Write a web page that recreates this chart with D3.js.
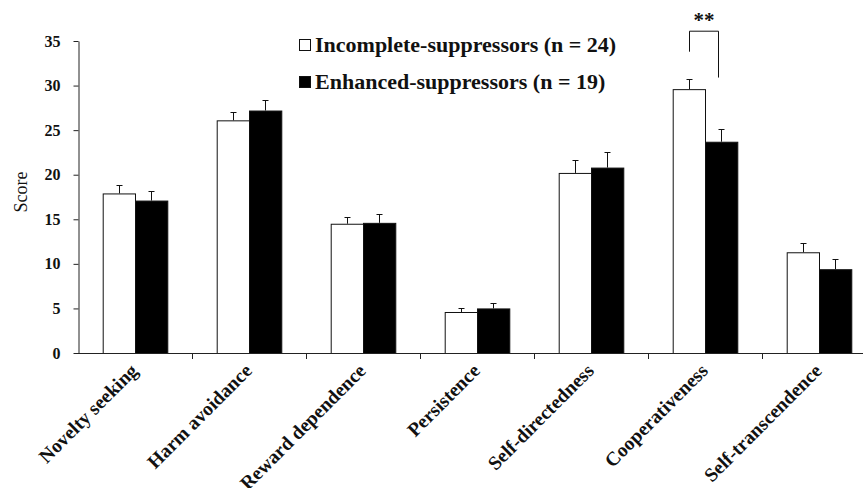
<!DOCTYPE html>
<html><head><meta charset="utf-8">
<script src="https://cdn.jsdelivr.net/npm/d3@7"></script>
<style>
html,body{margin:0;padding:0;background:#fff;}
svg{display:block;}
text{font-family:"Liberation Serif","Times New Roman",serif;}
</style></head>
<body>
<svg id="chart" width="863" height="488"></svg>
<script>
const categories = ["Novelty seeking","Harm avoidance","Reward dependence","Persistence","Self-directedness","Cooperativeness","Self-transcendence"];
const incomplete = [17.9, 26.1, 14.5, 4.6, 20.2, 29.6, 11.3];
const incompleteErr = [1.0, 0.9, 0.8, 0.5, 1.5, 1.1, 1.0];
const enhanced = [17.1, 27.2, 14.6, 5.0, 20.8, 23.7, 9.4];
const enhancedErr = [1.1, 1.2, 1.0, 0.6, 1.8, 1.4, 1.1];
const seriesNames = ["Incomplete-suppressors (n = 24)", "Enhanced-suppressors (n = 19)"];
const seriesKeys = ["inc","enh"];
const yTicks = [0,5,10,15,20,25,30,35];
const sigLabel = "**";
const sigCategory = "Cooperativeness";

const svg = d3.select("#chart");
const x = d3.scaleBand().domain(categories).range([78, 876]).paddingInner(0).paddingOuter(0);
const xs = d3.scaleBand().domain(seriesKeys).range([0, x.bandwidth()]).paddingInner(0).paddingOuter(0.765);
const y = d3.scaleLinear().domain([0,35]).range([353,41]);

const data = categories.map((c,i)=>({cat:c, vals:[
  {key:"inc", v:incomplete[i], e:incompleteErr[i]},
  {key:"enh", v:enhanced[i], e:enhancedErr[i]}
]}));

// bars
const g = svg.append("g");
const groups = g.selectAll("g.cat").data(data).join("g")
  .attr("transform", d=>`translate(${x(d.cat)},0)`);
groups.selectAll("rect").data(d=>d.vals).join("rect")
  .attr("x", d=>xs(d.key)+0.5)
  .attr("y", d=>y(d.v)+0.5)
  .attr("width", xs.bandwidth())
  .attr("height", d=>y(0)-y(d.v))
  .attr("fill", d=>d.key==="inc"?"#fff":"#000")
  .attr("stroke", "#111").attr("stroke-width",1);
// error bars
groups.selectAll("path.err").data(d=>d.vals).join("path")
  .attr("class","err")
  .attr("d", d=>{const cx = Math.round(xs(d.key)+xs.bandwidth()/2)+0.5; const t=Math.round(y(d.v+d.e))+0.5; const b=y(d.v);
    return `M${cx},${b}V${t}M${cx-3},${t}H${cx+3}`;})
  .attr("stroke","#111").attr("stroke-width",1).attr("fill","none");

// y axis
const yAxis = svg.append("g").attr("transform","translate(78.5,0)")
  .call(d3.axisLeft(y).tickValues(yTicks).tickSize(5).tickSizeOuter(0).tickPadding(13));
yAxis.select(".domain").attr("stroke","#222");
yAxis.selectAll(".tick line").attr("stroke","#222");
yAxis.selectAll(".tick text").attr("font-family","Liberation Serif, serif").attr("font-weight","bold").attr("font-size",16).attr("fill","#111");

// x axis
const xa = svg.append("g");
xa.append("line").attr("x1",78).attr("x2",876).attr("y1",353.5).attr("y2",353.5).attr("stroke","#222");
xa.selectAll("line.tk").data(categories).join("line").attr("class","tk")
  .attr("x1",d=>Math.round(x(d)+x.bandwidth())+0.5).attr("x2",d=>Math.round(x(d)+x.bandwidth())+0.5)
  .attr("y1",353).attr("y2",359).attr("stroke","#222");
xa.selectAll("text").data(categories).join("text")
  .attr("transform", d=>`translate(${x(d)+x.bandwidth()/2+4},372) rotate(-45)`)
  .attr("text-anchor","end").attr("font-weight","bold").attr("font-size",19.5).attr("fill","#111")
  .text(d=>d);

// y label
svg.append("text").attr("transform","translate(27,192) rotate(-90)")
  .attr("text-anchor","middle").attr("font-size",18).attr("fill","#111").text("Score");

// legend
const lg = svg.append("g");
seriesNames.forEach((n,i)=>{
  const yy = 52 + i*37;
  lg.append("rect").attr("x",299.5).attr("y",yy-12.5).attr("width",11).attr("height",11)
    .attr("fill", i===0?"#fff":"#000").attr("stroke","#111");
  lg.append("text").attr("x",315).attr("y",yy).attr("font-weight","bold").attr("font-size",22).attr("fill","#111").text(n);
});

// significance bracket
const sc = x(sigCategory);
const lx = Math.round(sc + xs("inc") + xs.bandwidth()/2)+0.5;
const rx = Math.round(sc + xs("enh") + xs.bandwidth()/2)-2.5;
svg.append("path")
  .attr("d", `M${lx},${y(33.8)}V${y(36.1)}H${rx}V${y(30.9)}`)
  .attr("stroke","#111").attr("fill","none").attr("stroke-width",1);
svg.append("text").attr("x",(lx+rx)/2).attr("y",27).attr("text-anchor","middle")
  .attr("font-weight","bold").attr("font-size",21).attr("fill","#111").text(sigLabel);
</script>
</body></html>
